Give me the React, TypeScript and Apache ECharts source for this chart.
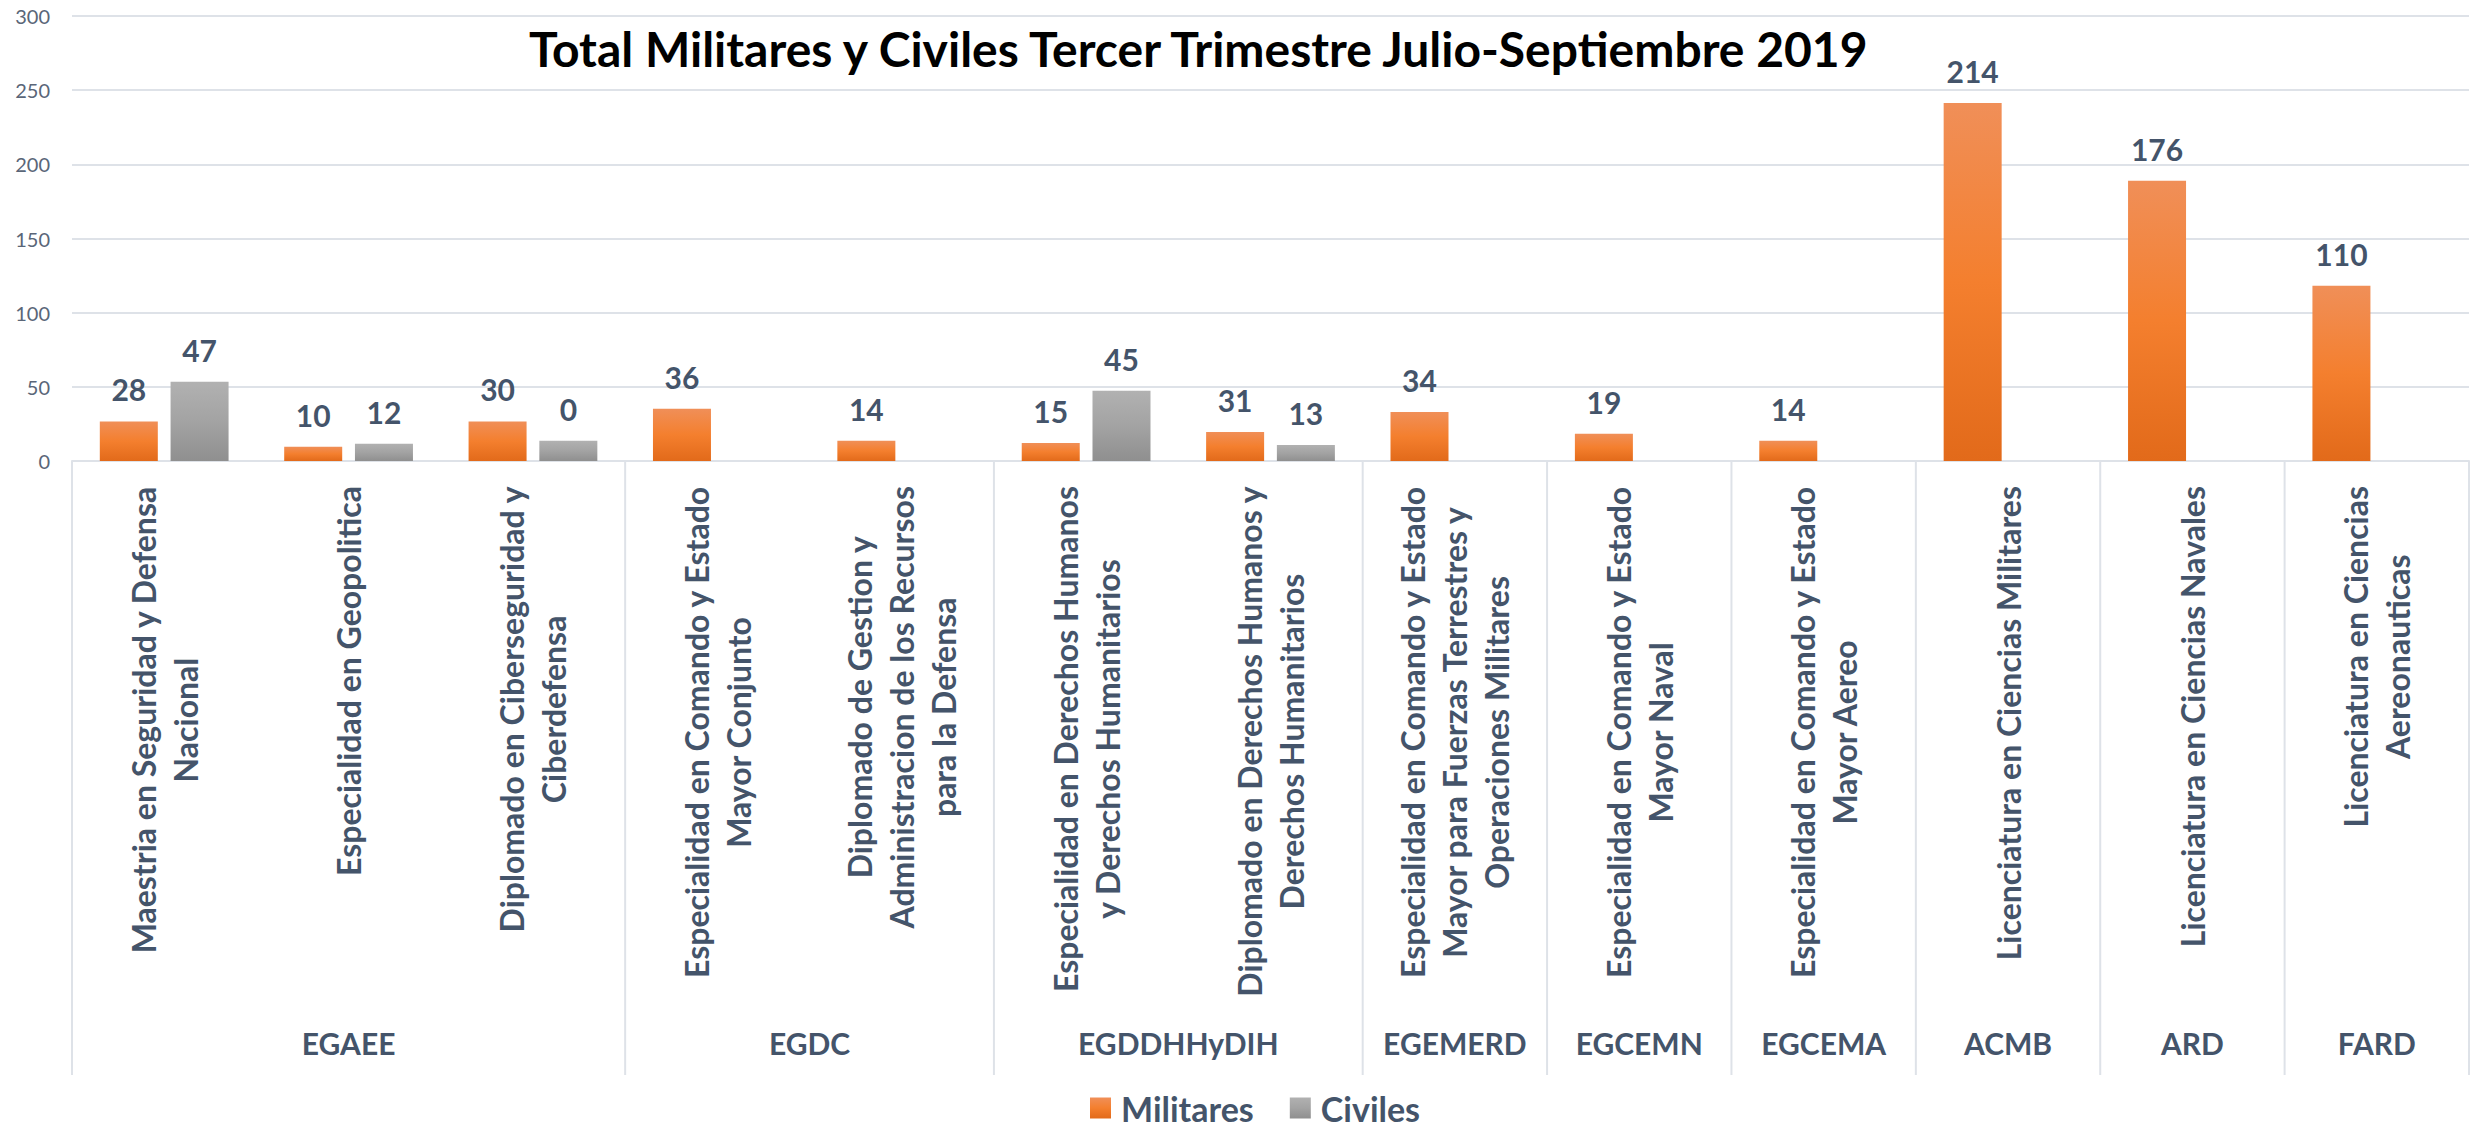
import React, { useEffect, useRef } from "react";
import * as echarts from "echarts";

const categories = [
  "Maestria en Seguridad y Defensa\nNacional",
  "Especialidad en Geopolitica",
  "Diplomado en Ciberseguridad y\nCiberdefensa",
  "Especialidad en Comando y Estado\nMayor Conjunto",
  "Diplomado de Gestion y\nAdministracion de los Recursos\npara la Defensa",
  "Especialidad en Derechos Humanos\ny Derechos Humanitarios",
  "Diplomado en Derechos Humanos y\nDerechos Humanitarios",
  "Especialidad en Comando y Estado\nMayor para Fuerzas Terrestres y\nOperaciones Militares",
  "Especialidad en Comando y Estado\nMayor Naval",
  "Especialidad en Comando y Estado\nMayor Aereo",
  "Licenciatura en Ciencias Militares",
  "Licenciatura en Ciencias Navales",
  "Licenciatura en Ciencias\nAereonauticas",
];

const groupNames = ["EGAEE", "EGDC", "EGDDHHyDIH", "EGEMERD", "EGCEMN", "EGCEMA", "ACMB", "ARD", "FARD"];
const groupSizes = [3, 2, 2, 1, 1, 1, 1, 1, 1];

// bar heights as drawn
const militaresBars = [26.7, 9.6, 26.7, 35.2, 13.7, 12.2, 19.6, 33.0, 18.3, 13.7, 241.4, 188.9, 118.1];
const civilesBars = [53.4, 11.7, 13.7, null, null, 47.4, 10.8, null, null, null, null, null, null];
// printed data labels
const militaresLabels = [28, 10, 30, 36, 14, 15, 31, 34, 19, 14, 214, 176, 110];
const civilesLabels = [47, 12, 0, null, null, 45, 13, null, null, null, null, null, null];

const yMin = 0;
const yMax = 300;
const yInterval = 50;

const TITLE = "Total Militares y Civiles Tercer Trimestre Julio-Septiembre 2019";
const FONT = "Lato";
const TEXT_COLOR = "#44546A";
const GRID_COLOR = "#DEE2E8";

export default function App() {
  const ref = useRef<HTMLDivElement>(null);

  useEffect(() => {
    if (!ref.current) return;
    const chart = echarts.init(ref.current, undefined, { renderer: "svg" });

    const orange = new echarts.graphic.LinearGradient(0, 0, 0, 1, [
      { offset: 0, color: "#F08F58" },
      { offset: 0.5, color: "#F47F2E" },
      { offset: 1, color: "#E26A1A" },
    ]);
    const gray = new echarts.graphic.LinearGradient(0, 0, 0, 1, [
      { offset: 0, color: "#B1B1B1" },
      { offset: 0.5, color: "#A3A3A3" },
      { offset: 1, color: "#8F8F8F" },
    ]);

    const labelStyle = {
      show: true,
      position: "top" as const,
      distance: 17,
      fontFamily: FONT,
      fontWeight: "bold" as const,
      fontSize: 30,
      color: TEXT_COLOR,
    };

    chart.setOption({
      animation: false,
      title: {
        text: TITLE,
        left: 524,
        top: 19,
        textStyle: { fontFamily: FONT, fontWeight: "bold", fontSize: 48, color: "#000000" },
      },
      legend: {
        data: ["Militares", "Civiles"],
        left: 1085,
        top: 1086,
        itemWidth: 21,
        itemHeight: 21,
        itemGap: 36,
        icon: "rect",
        textStyle: { fontFamily: FONT, fontWeight: "bold", fontSize: 34, color: TEXT_COLOR, padding: [0, 0, 0, 5] },
      },
      grid: { left: 72, right: 9, top: 16, bottom: 666, containLabel: false },
      xAxis: {
        type: "category",
        data: categories,
        axisLine: { show: true, lineStyle: { color: GRID_COLOR, width: 2 } },
        axisTick: { show: false },
        axisLabel: {
          interval: 0,
          rotate: 90,
          margin: 25,
          formatter: (v: string) => v.split("\n").map((l) => `{c|${l}}`).join("\n"),
          rich: {
            c: {
              fontFamily: FONT,
              fontWeight: "bold",
              fontSize: 32,
              lineHeight: 42,
              color: TEXT_COLOR,
              align: "center",
            },
          },
        },
      },
      yAxis: {
        type: "value",
        min: yMin,
        max: yMax,
        interval: yInterval,
        axisLine: { show: false },
        axisTick: { show: false },
        axisLabel: { fontFamily: FONT, fontSize: 20, color: "#5A6678", margin: 22 },
        splitLine: { lineStyle: { color: GRID_COLOR, width: 2 } },
      },
      series: [
        {
          name: "Militares",
          type: "bar",
          data: militaresBars,
          barWidth: 58,
          barGap: "22%",
          itemStyle: { color: orange },
          label: { ...labelStyle, formatter: (p: any) => String(militaresLabels[p.dataIndex]) },
        },
        {
          name: "Civiles",
          type: "bar",
          data: civilesBars,
          barWidth: 58,
          itemStyle: { color: gray },
          label: { ...labelStyle, formatter: (p: any) => String(civilesLabels[p.dataIndex]) },
        },
      ],
    });

    // group separators and group names below the category labels
    const px = (i: number) => chart.convertToPixel({ xAxisIndex: 0 }, i) as number;
    const yBase = chart.convertToPixel({ yAxisIndex: 0 }, 0) as number;
    const half = (px(1) - px(0)) / 2;
    const graphics: any[] = [];
    let start = 0;
    const lineLen = 614;
    groupNames.forEach((name, gi) => {
      const end = start + groupSizes[gi] - 1;
      const left = px(start) - half;
      const right = px(end) + half;
      graphics.push({
        type: "line",
        shape: { x1: left, y1: yBase, x2: left, y2: yBase + lineLen },
        style: { stroke: GRID_COLOR, lineWidth: 2 },
        silent: true,
      });
      if (gi === groupNames.length - 1) {
        graphics.push({
          type: "line",
          shape: { x1: right, y1: yBase, x2: right, y2: yBase + lineLen },
          style: { stroke: GRID_COLOR, lineWidth: 2 },
          silent: true,
        });
      }
      graphics.push({
        type: "text",
        x: (left + right) / 2,
        y: yBase + 582,
        style: {
          text: name,
          fontFamily: FONT,
          fontWeight: "bold",
          fontSize: 30,
          fill: TEXT_COLOR,
          align: "center",
          verticalAlign: "middle",
        },
        silent: true,
      });
      start = end + 1;
    });
    chart.setOption({ graphic: graphics });

    return () => chart.dispose();
  }, []);

  return (
    <div
      ref={ref}
      style={{ position: "fixed", left: 0, top: 0, width: 2478, height: 1127, background: "#ffffff" }}
    />
  );
}
